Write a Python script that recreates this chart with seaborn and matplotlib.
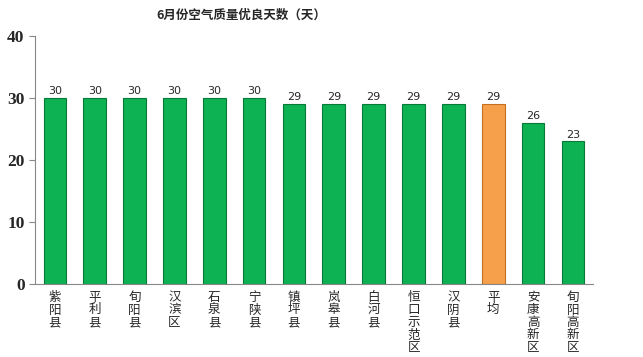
import matplotlib
matplotlib.use("Agg")
import matplotlib.pyplot as plt
import seaborn as sns
import pandas as pd
import numpy as np

counties = ["紫阳县", "平利县", "旬阳县", "汉滨区", "石泉县", "宁陕县", "镇坪县",
            "岚皋县", "白河县", "恒口示范区", "汉阴县", "平均", "安康高新区", "旬阳高新区"]
days = [30, 30, 30, 30, 30, 30, 29, 29, 29, 29, 29, 29, 26, 23]

sns.set_style("white")
plt.rcParams['font.family'] = ['Noto Sans CJK SC', 'DejaVu Sans']

df = pd.DataFrame({'county': counties, 'days': days})
colors = ['#F7A04B' if c == "平均" else '#0DB253' for c in counties]

fig = plt.figure(figsize=(6.43, 3.57), dpi=100)
ax = fig.add_axes([0.0544, 0.2045, 0.8676, 0.6945])

sns.barplot(data=df, x='county', y='days', hue='county', palette=colors,
            legend=False, width=0.57, ax=ax, saturation=1)
for p, c in zip(ax.patches, colors):
    edge = '#C27020' if c == '#F7A04B' else '#067A36'
    p.set_edgecolor(edge)
    p.set_linewidth(0.8)

for i, v in enumerate(days):
    ax.text(i, v + 0.3, str(v), ha='center', va='bottom', fontsize=8,
            family='DejaVu Sans')

ax.set_ylim(0, 40)
ax.set_xlim(-0.45, len(counties) - 0.55)
ax.set_yticks([0, 10, 20, 30, 40])
ax.set_yticklabels(['0', '10', '20', '30', '40'], family='Liberation Serif',
                   fontsize=12.5, fontweight='bold')
ax.set_xticks(range(len(counties)))
ax.set_xticklabels(['\n'.join(c) for c in counties], fontsize=9, linespacing=0.95,
                   va='top')
ax.set_xticks(np.arange(-0.5, len(counties), 1.0), minor=True)
ax.tick_params(axis='x', which='major', length=0, pad=5)
ax.tick_params(axis='x', which='minor', length=4, color='#888888', direction='out')
ax.tick_params(axis='y', length=4, color='#888888', direction='out', left=True)

sns.despine(ax=ax)
for s in ['left', 'bottom']:
    ax.spines[s].set_color('#888888')
    ax.spines[s].set_linewidth(0.8)

ax.set_xlabel('')
ax.set_ylabel('')
fig.suptitle('6月份空气质量优良天数（天）', x=0.376, y=0.975, fontsize=9,
             fontweight='bold')

plt.savefig('out.png', dpi=100)
